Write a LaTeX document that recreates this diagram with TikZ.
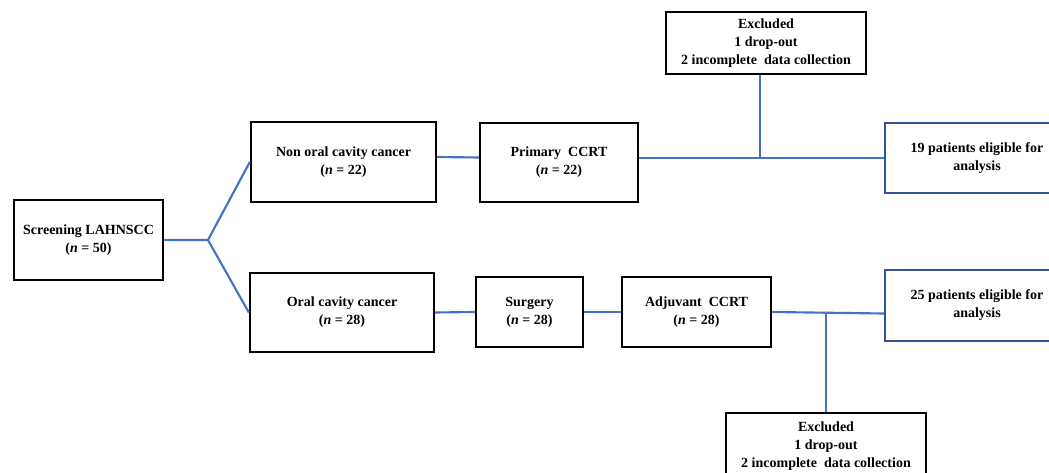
\documentclass[tikz,border=0pt]{standalone}
\usepackage{fontspec}
\setmainfont{Liberation Serif}
\definecolor{linkblue}{RGB}{68,114,196}
\definecolor{boxblue}{RGB}{47,85,151}
\begin{document}
\begin{tikzpicture}[x=0.75pt,y=-0.75pt,
		box/.style={draw=black, line width=1.8pt, align=center, inner sep=0pt, font=\fontsize{10.5}{13.5}\selectfont\bfseries},
		outbox/.style={box, draw=boxblue},
		link/.style={draw=linkblue, line width=1.6pt}]
		\useasboundingbox (0,0) rectangle (1049,473);
		\clip (0,0) rectangle (1049,473);
		\node[box, minimum width=111.75pt, minimum height=60pt] (screen) at (88.5,240) {Screening LAHNSCC\\(\textit{n} = 50)};
		\node[box, minimum width=138.75pt, minimum height=60pt] (nonoral) at (343.5,162) {Non oral cavity cancer\\(\textit{n} = 22)};
		\node[box, minimum width=138pt, minimum height=59.25pt] (oral) at (342,312.5) {Oral cavity cancer\\(\textit{n} = 28)};
		\node[box, minimum width=118.5pt, minimum height=59.25pt] (primary) at (559,162.5) {Primary\ \ CCRT\\(\textit{n} = 22)};
		\node[box, minimum width=80.25pt, minimum height=52.5pt] (surgery) at (529.5,312) {Surgery\\(\textit{n} = 28)};
		\node[box, minimum width=111.75pt, minimum height=52.5pt] (adjuvant) at (696.5,312) {Adjuvant\ \ CCRT\\(\textit{n} = 28)};
		\node[box, minimum width=150pt, minimum height=46.5pt] (exclA) at (766,43) {Excluded\\1 drop-out\\2 incomplete\ \ data collection};
		\node[box, minimum width=150pt, minimum height=49.5pt] (exclB) at (826,446) {Excluded\\1 drop-out\\2 incomplete\ \ data collection};
		\node[outbox, minimum width=138pt, minimum height=52.5pt] (eligA) at (977,158) {19 patients eligible for\\analysis};
		\node[outbox, minimum width=138pt, minimum height=53.25pt] (eligB) at (977,305.5) {25 patients eligible for\\analysis};
		% connectors
		\coordinate (fork) at (208,240);
		\draw[link] (screen.east) -- (fork) -- (nonoral.west);
		\draw[link] (fork) -- (oral.west);
		\draw[link] ([yshift=3.75pt]nonoral.east) -- ([yshift=3.75pt]primary.west);
		\draw[link] (primary.east |- eligA.west) -- (eligA.west);
		\draw[link] ([xshift=-4.5pt]exclA.south) -- ([xshift=-4.5pt]exclA.south |- eligA.west);
		\draw[link] (oral.east) -- (surgery.west);
		\draw[link] (surgery.east) -- (adjuvant.west);
		\draw[link] (adjuvant.east) -- ([yshift=-6pt]eligB.west);
		\draw[link] (exclB.north) -- (exclB.north |- adjuvant.east);
	\end{tikzpicture}
\end{document}
